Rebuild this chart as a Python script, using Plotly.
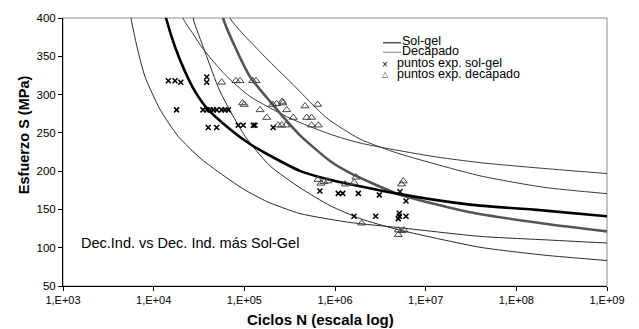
import plotly.graph_objects as go

# ---------------- data ----------------
# Mean S-N curves (log10 N, S in MPa)
solgel_logN = [4.070, 4.136, 4.235, 4.346, 4.456, 4.588, 4.842, 5.062, 5.250, 5.614, 5.945, 6.684, 7.489, 8.316, 9.0]
solgel_S    = [433.7, 400.0, 362.4, 330.0, 304.1, 282.0, 254.8, 235.4, 222.4, 200.4, 188.7, 170.6, 156.3, 148.5, 141.1]

decap_logN = [4.709, 4.765, 4.897, 5.062, 5.283, 5.470, 5.614, 5.945, 6.165, 6.684, 7.489, 8.316, 9.0]
decap_S    = [433.7, 400.0, 362.4, 323.5, 291.1, 265.2, 246.7, 213.3, 197.8, 170.6, 146.3, 131.3, 121.3]

# Band curves (thin lines)
band1_logN = [3.717, 3.750, 3.816, 3.904, 4.070, 4.268, 4.511, 4.698, 4.985, 5.250, 5.614, 6.165, 6.684, 7.599, 8.316, 9.0]
band1_S    = [433.7, 400.0, 362.4, 323.5, 280.7, 245.7, 217.2, 200.4, 177.0, 160.2, 144.6, 133.0, 126.5, 114.8, 110.3, 106.1]

band2_logN = [4.401, 4.434, 4.566, 4.732, 5.007, 5.283, 5.614, 5.945, 6.276, 6.684, 7.599, 8.316, 9.0]
band2_S    = [433.7, 400.0, 355.9, 304.1, 245.7, 206.9, 178.3, 155.0, 138.1, 123.9, 100.6, 90.2, 83.3]

band3_logN = [4.290, 4.323, 4.434, 4.544, 4.787, 5.062, 5.504, 5.945, 6.276, 7.048, 7.599, 8.316, 9.0]
band3_S    = [433.7, 400.0, 379.3, 359.8, 326.1, 297.6, 269.1, 248.3, 236.7, 219.8, 211.1, 203.4, 196.9]

band4_logN = [4.798, 4.842, 5.173, 5.537, 5.912, 6.276, 6.684, 7.599, 8.316, 9.0]
band4_S    = [433.7, 400.0, 355.9, 313.1, 269.1, 241.9, 223.7, 193.9, 178.7, 170.6]

# Experimental points
sg_N = [14500, 17200, 19900, 17900, 38500, 38500,
        35000, 38700, 41800, 45500, 49600, 56300, 61200, 66600,
        40000, 49500, 85700, 97300, 125500, 131000, 208000,
        682000, 1087000, 1216000, 1810000, 3080000, 5210000, 6070000,
        1620000, 2810000, 5120000, 5120000, 6070000, 4990000]
sg_S = [318, 318, 316, 280, 323, 316,
        280, 280, 280, 280, 280, 280, 280, 280,
        257, 257, 260, 260, 260, 260, 257,
        174, 171, 171, 171, 169, 173, 161,
        141, 141, 145, 141, 141, 138]

dec_N = [56200, 80900, 89600, 123600, 134500, 95700, 99900, 149000, 176600, 205600,
         227500, 265000, 262000, 293000, 346500, 467000, 644000, 487000, 552000, 552000,
         655000, 236500, 258000, 288000, 649000, 700000, 756000, 837000, 1297000, 1620000,
         1700000, 5430000, 5660000, 1970000, 4990000, 5430000, 5770000, 4990000]
dec_S = [316, 318, 318, 318, 318, 289, 287, 280, 270, 287,
         288, 289, 291, 280, 270, 285, 287, 270, 270, 260,
         260, 260, 260, 260, 189, 184, 186, 187, 183, 185,
         192, 183, 187, 132, 123, 122, 123, 117]

x_tickvals = [1e3, 1e4, 1e5, 1e6, 1e7, 1e8, 1e9]
x_ticktext = ["1,E+03", "1,E+04", "1,E+05", "1,E+06", "1,E+07", "1,E+08", "1,E+09"]
y_tickvals = [50, 100, 150, 200, 250, 300, 350, 400]

# ---------------- figure ----------------
FONT = "Arial, Liberation Sans, sans-serif"
fig = go.Figure()

def curve(logN, S, color, width):
    fig.add_trace(go.Scatter(x=[10 ** v for v in logN], y=S, mode="lines",
                             line=dict(color=color, width=width, shape="spline", smoothing=0.6),
                             showlegend=False, hoverinfo="skip"))

curve(band1_logN, band1_S, "#2a2a2a", 1)
curve(band2_logN, band2_S, "#2a2a2a", 1)
curve(band3_logN, band3_S, "#3a3a3a", 1)
curve(band4_logN, band4_S, "#3a3a3a", 1)
curve(decap_logN, decap_S, "#555555", 2.6)
curve(solgel_logN, solgel_S, "#000000", 2.6)

fig.add_trace(go.Scatter(x=dec_N, y=dec_S, mode="markers", showlegend=False,
                         marker=dict(symbol="triangle-up-open", size=7, color="#444444",
                                     line=dict(width=1, color="#444444"))))
fig.add_trace(go.Scatter(x=sg_N, y=sg_S, mode="markers", showlegend=False,
                         marker=dict(symbol="x-thin", size=5, color="#000000",
                                     line=dict(width=1.5, color="#000000"))))

fig.update_xaxes(type="log", range=[3, 9], tickvals=x_tickvals, ticktext=x_ticktext,
                 ticks="outside", ticklen=4, tickcolor="black", showline=True, linecolor="black",
                 linewidth=1, showgrid=False, zeroline=False,
                 tickfont=dict(family=FONT, size=11, color="black"))
fig.update_yaxes(range=[50, 400], tickvals=y_tickvals, ticks="outside", ticklen=4,
                 tickcolor="black", showline=True, linecolor="black", linewidth=1,
                 showgrid=False, zeroline=False,
                 tickfont=dict(family=FONT, size=11.5, color="black"))

# plot-area border (gray)
fig.add_shape(type="rect", xref="x domain", yref="y domain", x0=0, x1=1, y0=0, y1=1,
              line=dict(color="#8c8c8c", width=1), layer="below")

L, R, T, B, W, H = 63, 32, 16, 43, 639, 329
PW, PH = W - L - R, H - T - B
px = lambda x: (x - L) / PW
py = lambda y: (H - B - y) / PH

# manual legend
fig.add_shape(type="line", xref="paper", yref="paper", x0=px(383), x1=px(401), y0=py(41), y1=py(41),
              line=dict(color="black", width=1))
fig.add_shape(type="line", xref="paper", yref="paper", x0=px(383), x1=px(401), y0=py(50.5), y1=py(50.5),
              line=dict(color="#808080", width=1))

def text(t, x, y, size, xanchor="left", bold=False, angle=0, color="black"):
    fig.add_annotation(text=("<b>%s</b>" % t) if bold else t, xref="paper", yref="paper",
                       x=px(x), y=py(y), xanchor=xanchor, yanchor="middle", showarrow=False,
                       textangle=angle, font=dict(family=FONT, size=size, color=color), borderpad=0)

text("Sol-gel", 401, 39.5, 12.5)
text("Decapado", 401, 49.5, 12.5)
text("×", 385, 62.5, 10, xanchor="center")
text("puntos exp. sol-gel", 396, 61.5, 12.5)
text("△", 385, 73, 8, xanchor="center", color="#444444")
text("puntos exp. decapado", 396, 72, 12.5)

text("Dec.Ind. vs Dec. Ind. más Sol-Gel", 80, 243, 14.5)
text("Ciclos N (escala log)", 320, 320, 15, xanchor="center", bold=True)
text("Esfuerzo S (MPa)", 24, 134, 14.5, xanchor="center", bold=True, angle=-90)

fig.update_layout(width=W, height=H, margin=dict(l=L, r=R, t=T, b=B),
                  paper_bgcolor="white", plot_bgcolor="white", showlegend=False)

fig.write_html("out.html", config={"displayModeBar": False},
               post_script="document.body.style.margin='0px';document.body.style.overflow='hidden';")
